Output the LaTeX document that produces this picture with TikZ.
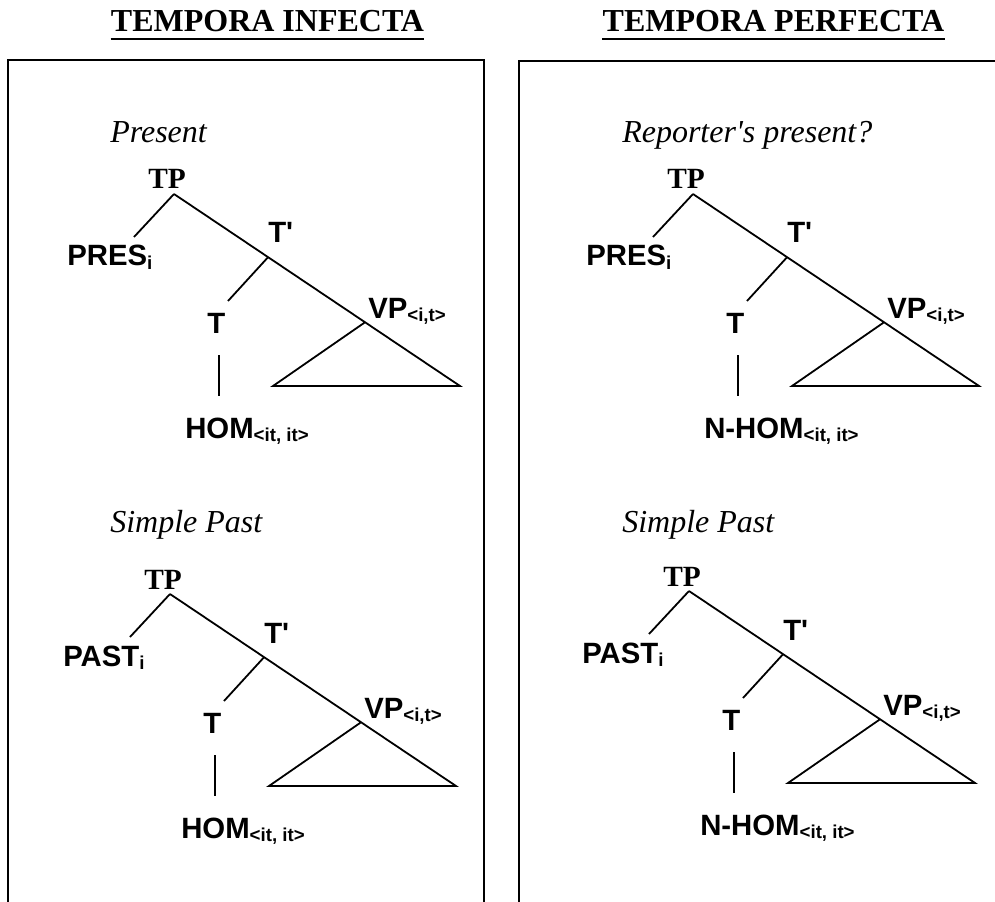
\documentclass[tikz,border=0pt]{standalone}
\usepackage{fontspec}
\setmainfont{Liberation Serif}
\setsansfont{Liberation Sans}
\usetikzlibrary{calc}

\newcommand{\lowidx}[1]{\raisebox{-2.5pt}{\fontsize{14}{14}\selectfont #1}}

% one TP tree; #1 shift, #2 prefix, #3 specifier, #4 head
\newcommand{\tptree}[4]{%
  \begin{scope}[shift={#1}, name prefix=#2-]
    \coordinate (top) at (174,194);
    \coordinate (spec) at (134,237);
    \coordinate (tri-r) at (460,386);
    \coordinate (tri-l) at (273,386);
    \coordinate (tbar) at ($(top)!0.329!(tri-r)$);
    \coordinate (vp) at ($(top)!0.668!(tri-r)$);
    \coordinate (t) at (228,301);
    \coordinate (head-u) at (219,355);
    \coordinate (head-d) at (219,396);
    \node[cat] (tp-lab) at (148,189) {TP};
    \node[lab] (spec-lab) at (67,266) {#3\lowidx{i}};
    \node[lab] (tbar-lab) at (268,243) {T\textquotesingle};
    \node[lab] (t-lab) at (207,333) {T};
    \node[lab] (head-lab) at (185,438) {#4\lowidx{<it, it>}};
    \node[lab] (vp-lab) at (368,318) {VP\lowidx{<i,t>}};
    \draw[branch] (top) -- (spec);
    \draw[branch] (top) -- (tri-r) -- (tri-l) -- (vp);
    \draw[branch] (tbar) -- (t);
    \draw[branch] (head-u) -- (head-d);
  \end{scope}}

\begin{document}
\begin{tikzpicture}[
  x=0.75pt, y=-0.75pt,
  hd/.style={font=\fontsize{24}{28}\selectfont\bfseries, inner sep=0pt, anchor=base},
  uline/.style={line width=1.6pt},
  frame/.style={line width=1.3pt},
  tense/.style={font=\fontsize{24}{28}\selectfont\itshape, inner sep=0pt, anchor=base west},
  cat/.style={font=\fontsize{22}{26}\selectfont\bfseries, inner sep=0pt, anchor=base west},
  lab/.style={font=\fontsize{22}{26}\selectfont\sffamily\bfseries, inner sep=0pt, anchor=base west},
  branch/.style={line width=1.35pt, line join=miter}
]
  \useasboundingbox (0,0) rectangle (995,902);

  % headings
  \node[hd] (infecta) at (267.5,32) {TEMPORA INFECTA};
  \node[hd] (perfecta) at (773.5,32) {TEMPORA PERFECTA};
  \draw[uline] ([yshift=-5.3pt]infecta.base west) -- ([yshift=-5.3pt]infecta.base east);
  \draw[uline] ([yshift=-5.3pt]perfecta.base west) -- ([yshift=-5.3pt]perfecta.base east);

  % panels, open at the bottom
  \draw[frame] (8,902) -- (8,60) -- (484,60) -- (484,902);
  \draw[frame] (519,902) -- (519,61) -- (996,61);

  \node[tense] (pres-ttl) at (110,143) {Present};
  \node[tense] (rep-ttl) at (622,143) {Reporter\textquotesingle s present?};
  \node[tense] (past-ttl-l) at (110,532) {Simple Past};
  \node[tense] (past-ttl-r) at (622,532) {Simple Past};

  \tptree{(0,0)}{tl}{PRES}{HOM}
  \tptree{(519,0)}{tr}{PRES}{N-HOM}
  \tptree{(-4,400)}{bl}{PAST}{HOM}
  \tptree{(515,397)}{br}{PAST}{N-HOM}
\end{tikzpicture}
\end{document}
